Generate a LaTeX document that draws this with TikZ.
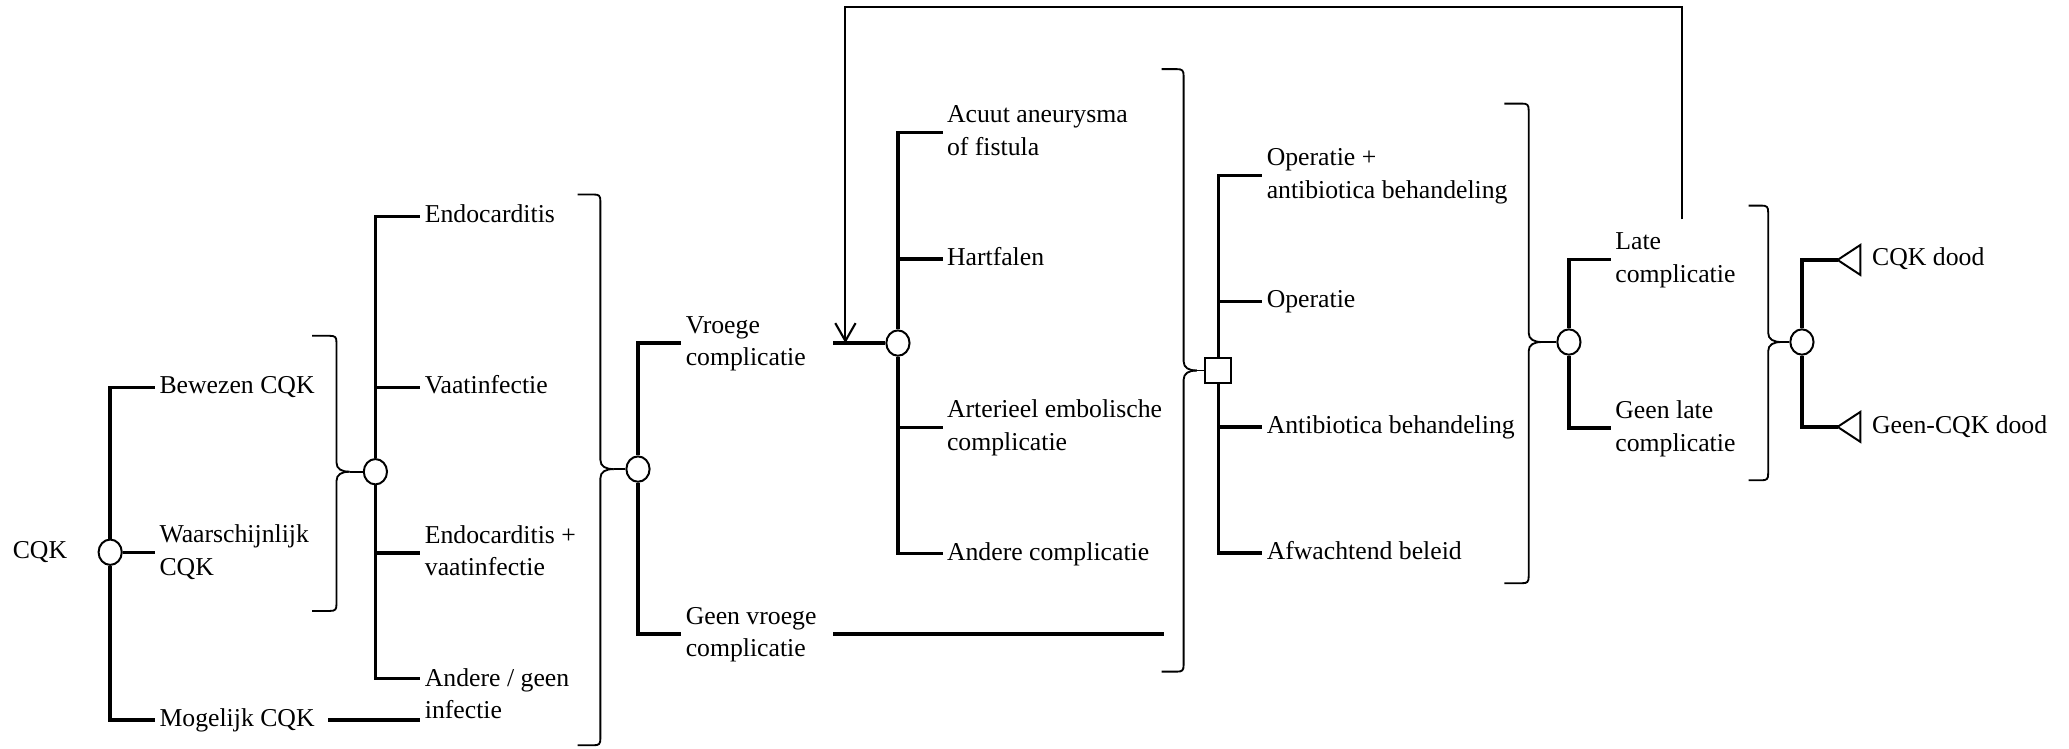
\documentclass[tikz,border=0pt]{standalone}
\usepackage{fontspec}
\setmainfont{Liberation Serif}
\usetikzlibrary{arrows.meta,shapes.geometric}
\newcommand\tf{\fontsize{9.75pt}{12.4pt}\selectfont}
% right brace: #1 x, #2 top, #3 bottom, #4 tip y, #5 hook start x
\newcommand\mybrace[5]{%
  \draw[bracestyle] (#5,#2) -- ({#1-5},#2) .. controls ({#1-1},#2) and (#1,{#2+1}) .. (#1,{#2+5})
     -- (#1,{#4-7}) .. controls (#1,{#4-2}) and ({#1+4},#4) .. ({#1+10},#4);
  \draw[bracestyle] (#5,#3) -- ({#1-5},#3) .. controls ({#1-1},#3) and (#1,{#3-1}) .. (#1,{#3-5})
     -- (#1,{#4+7}) .. controls (#1,{#4+2}) and ({#1+4},#4) .. ({#1+10},#4);
}
\begin{document}
\begin{tikzpicture}[x=0.5pt,y=-0.5pt,
  br/.style={line width=1.3pt},
  bracestyle/.style={line width=0.7pt},
  loopline/.style={line width=0.8pt},
  chance/.style={ellipse,draw,line width=0.75pt,fill=white,inner sep=0pt,minimum width=8.8pt,minimum height=9.6pt},
  decision/.style={rectangle,draw,line width=0.75pt,fill=white,inner sep=0pt,minimum size=9.75pt},
  terminal/.style={line width=0.75pt},
  lab/.style={anchor=west,inner xsep=1.5pt,inner ysep=0pt,align=left,font=\tf},
]
\useasboundingbox (0,0) rectangle (1568,567);

% ---- level 1
\node[lab] (cqk) at (6.3,418.5) {CQK\strut};
\node[chance] (C1) at (83.5,418.5) {};
\node[lab] (bew) at (117.5,293.5) {Bewezen CQK\strut};
\node[lab] (waar) at (117.5,418.5) {Waarschijnlijk\strut\\CQK\strut};
\node[lab] (mog) at (117.5,545.5) {Mogelijk CQK\strut};
\draw[br] (C1.north) |- (bew.west);
\draw[br] (C1.east) -- (waar.west);
\draw[br] (C1.south) |- (mog.west);

% ---- level 2
\mybrace{255}{254.5}{463}{357.5}{236.6}
\coordinate (tip1) at (265,357.5);
\node[chance] (C2) at (284.5,357.5) {};
\draw[bracestyle] (tip1) -- (C2.west);
\node[lab] (endo) at (318.6,164) {Endocarditis\strut};
\node[lab] (vaat) at (318.6,293.5) {Vaatinfectie\strut};
\node[lab] (endovaat) at (318.6,419) {Endocarditis +\strut\\vaatinfectie\strut};
\node[lab] (andgeen) at (318.6,527.5) {Andere / geen\strut\\infectie\strut};
\draw[br] (C2.north) |- (endo.west);
\draw[br] (C2 |- vaat.west) -- (vaat.west);
\draw[br] (C2 |- endovaat.west) -- (endovaat.west);
\draw[br] (C2.south) |- ([yshift=6.75pt]andgeen.west);
\draw[br] ([xshift=3.5pt]mog.east) -- (mog.east -| andgeen.west);

% ---- level 3
\mybrace{455}{147.4}{564.8}{355.5}{437.7}
\coordinate (tip2) at (465,355.5);
\node[chance] (C3) at (483.5,355.5) {};
\draw[bracestyle] (tip2) -- (C3.west);
\node[lab] (vro) at (516.3,260) {Vroege\strut\\complicatie\strut};
\node[lab] (gvro) at (516.3,480.5) {Geen vroege\strut\\complicatie\strut};
\draw[br] (C3.north) |- (vro.west);
\draw[br] (C3.south) |- (gvro.west);

% ---- level 4
\coordinate (vroOut) at (631.4,260);
\node[chance] (C4) at (680.5,260) {};
\draw[br] (vroOut) -- (C4.west);
\node[lab] (acu) at (714.3,100.5) {Acuut aneurysma\strut\\of fistula\strut};
\node[lab] (hart) at (714.3,196.2) {Hartfalen\strut};
\node[lab] (art) at (714.3,324) {Arterieel embolische\strut\\complicatie\strut};
\node[lab] (andc) at (714.3,419.5) {Andere complicatie\strut};
\draw[br] (C4.north) |- (acu.west);
\draw[br] (C4 |- hart.west) -- (hart.west);
\draw[br] (C4 |- art.west) -- (art.west);
\draw[br] (C4.south) |- (andc.west);
\coordinate (gvroOut) at (631.4,480.5);
\coordinate (gvroEnd) at (882,480.5);
\draw[br] (gvroOut) -- (gvroEnd);

% ---- level 5 (decision)
\mybrace{897}{52.4}{509}{280.8}{880.3}
\coordinate (tip3) at (907,280.8);
\node[decision] (Sq) at (923.3,280.8) {};
\draw[bracestyle] (tip3) -- (Sq.west);
\node[lab] (op1) at (956.6,133) {Operatie +\strut\\antibiotica behandeling\strut};
\node[lab] (op2) at (956.6,228.4) {Operatie\strut};
\node[lab] (ab) at (956.6,323.7) {Antibiotica behandeling\strut};
\node[lab] (afw) at (956.6,419) {Afwachtend beleid\strut};
\draw[br] (Sq.north) |- (op1.west);
\draw[br] (Sq |- op2.west) -- (op2.west);
\draw[br] (Sq |- ab.west) -- (ab.west);
\draw[br] (Sq.south) |- (afw.west);

% ---- level 6
\mybrace{1158.5}{78.5}{442}{259.2}{1140}
\coordinate (tip4) at (1168.5,259.2);
\node[chance] (C5) at (1189,259.2) {};
\draw[bracestyle] (tip4) -- (C5.west);
\node[lab] (late) at (1220.8,196.5) {Late\strut\\complicatie\strut};
\node[lab] (glate) at (1220.8,324.5) {Geen late\strut\\complicatie\strut};
\draw[br] (C5.north) |- (late.west);
\draw[br] (C5.south) |- (glate.west);

% ---- loop back
\coordinate (lateTop) at (1274.5,166.3);
\coordinate (loopIn) at (640.7,260);
\draw[loopline,-{Straight Barb[length=6.75pt,width=7.7pt]}] (lateTop) -- (lateTop |- 0,5.2) -| (loopIn);

% ---- level 7
\mybrace{1340}{155.8}{364}{259.2}{1325.2}
\coordinate (tip5) at (1350,259.2);
\node[chance] (C6) at (1365.6,259.2) {};
\draw[bracestyle] (tip5) -- (C6.west);
\coordinate (tA1) at (1392.6,197);
\coordinate (tA2) at (1392.6,323.5);
\draw[terminal] (tA1) -- ++(17.2,-11.3) -- ++(0,22.6) -- cycle;
\draw[terminal] (tA2) -- ++(17.2,-11.3) -- ++(0,22.6) -- cycle;
\draw[br] (C6.north) |- (tA1);
\draw[br] (C6.south) |- (tA2);
\node[lab] (dood1) at (1415.4,196.5) {CQK dood\strut};
\node[lab] (dood2) at (1415.4,323.5) {Geen-CQK dood\strut};
\end{tikzpicture}
\end{document}
